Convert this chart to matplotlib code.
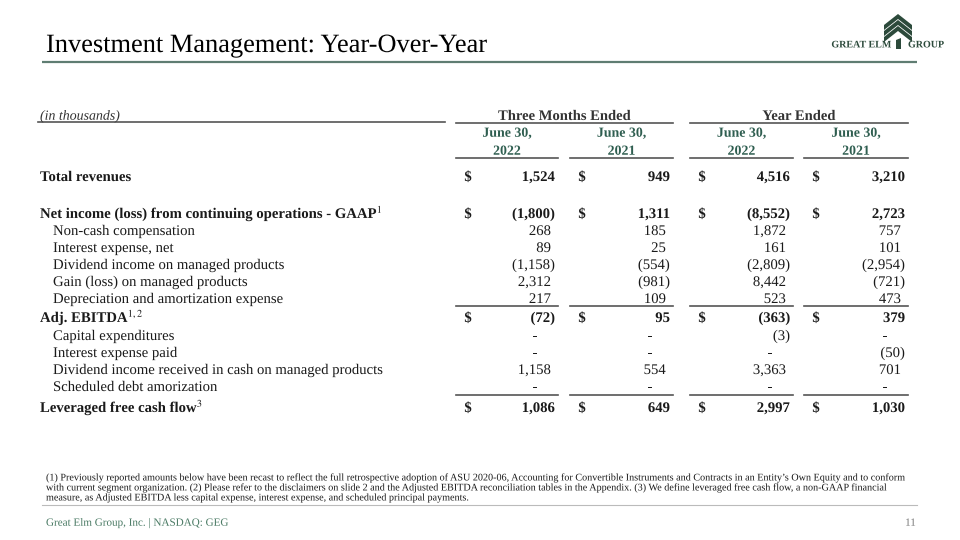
import matplotlib
matplotlib.use("Agg")
import matplotlib.pyplot as plt
import matplotlib.patheffects as pe
from matplotlib.patches import Polygon

plt.rcParams['font.family'] = 'Liberation Serif'
plt.rcParams['mathtext.fontset'] = 'stix'

# --- datos de la tabla (en miles) ---
row_labels = [
    "Total revenues",
    "Net income (loss) from continuing operations - GAAP$^1$",
    "Non-cash compensation",
    "Interest expense, net",
    "Dividend income on managed products",
    "Gain (loss) on managed products",
    "Depreciation and amortization expense",
    "Adj. EBITDA$^{1,2}$",
    "Capital expenditures",
    "Interest expense paid",
    "Dividend income received in cash on managed products",
    "Scheduled debt amorization",
    "Leveraged free cash flow$^3$",
]
row_bold = [True, True, False, False, False, False, False, True,
            False, False, False, False, True]

q3_2022 = [1524, -1800, 268, 89, -1158, 2312, 217, -72, None, None, 1158, None, 1086]
q3_2021 = [949, 1311, 185, 25, -554, -981, 109, 95, None, None, 554, None, 649]
fy_2022 = [4516, -8552, 1872, 161, -2809, 8442, 523, -363, -3, None, 3363, None, 2997]
fy_2021 = [3210, 2723, 757, 101, -2954, -721, 473, 379, None, -50, 701, None, 1030]

group_titles = ["Three Months Ended", "Year Ended"]
col_dates = ["June 30,", "June 30,", "June 30,", "June 30,"]
col_years = ["2022", "2021", "2022", "2021"]

footnotes = [
    "(1) Previously reported amounts below have been recast to reflect the full retrospective adoption of ASU 2020-06, "
    "Accounting for Convertible Instruments and Contracts in an Entity\u2019s Own Equity and to conform",
    "with current segment organization. (2) Please refer to the disclaimers on slide 2 and the Adjusted EBITDA "
    "reconciliation tables in the Appendix. (3) We define leveraged free cash flow, a non-GAAP financial",
    "measure, as Adjusted EBITDA less capital expense, interest expense, and scheduled principal payments.",
]

# --- layout (pixels) ---
row_y = [176, 213, 230, 247, 264, 281, 298, 317, 335, 352, 369, 386, 407]
col_left = [456, 570, 690, 804]
col_right = [558, 673, 793, 908]
dollar_rows = [0, 1, 7, 12]
lines_after = [306, 395]

DARK = '#1a1a1a'
GREEN = '#2f5e50'
LOGO = '#2c4a3b'
FS = 10.6
# dibujar el texto como trazos evita saltos de un pixel entre celdas
AS_PATH = [pe.Normal()]


def fmt(v):
    if v is None:
        return "-"
    if v < 0:
        return f"({abs(v):,})"
    return f"{v:,}"


def txt(x, yc, s, size=FS, **kw):
    # y es el centro visual de las mayusculas; se pasa a linea base
    base = yc + 0.34 * size * 100 / 72
    return ax.text(x, base, s, fontsize=size, va='baseline', path_effects=AS_PATH, **kw)


fig = plt.figure(figsize=(9.6, 5.4), dpi=100)
ax = fig.add_axes([0, 0, 1, 1])
ax.set_xlim(0, 960)
ax.set_ylim(540, 0)
ax.axis('off')

# titulo
ax.text(46, 52, "Investment Management: Year-Over-Year", fontsize=19.0,
        color='black', va='baseline', ha='left', path_effects=AS_PATH)
ax.plot([42, 917], [62, 62], color='#5f7d72', lw=1.6, solid_capstyle='butt')

# logo (arbol estilizado)
for top in [14, 20, 26]:
    cx, w, h, t = 898, 14, 11, 5
    pts = [(cx - w, top + h), (cx, top), (cx + w, top + h),
           (cx + w, top + h + t), (cx, top + t), (cx - w, top + h + t)]
    ax.add_patch(Polygon(pts, closed=True, color=LOGO, lw=0))
ax.add_patch(Polygon([(896, 40), (901, 38), (901, 49), (896, 49)], closed=True, color=LOGO, lw=0))
txt(891, 44, "GREAT ELM", size=7.2, color=LOGO, ha='right', fontweight='bold')
txt(908, 44, "GROUP", size=7.2, color=LOGO, ha='left', fontweight='bold')

# encabezados
txt(40, 115, "(in thousands)", size=10, style='italic', color='#333333')
ax.plot([38, 445], [122, 122], color='#555555', lw=1.2)
for i, title in enumerate(group_titles):
    x0, x1 = col_left[2 * i], col_right[2 * i + 1]
    txt((x0 + x1) / 2, 115, title, size=10.5, fontweight='bold',
        color='#333333', ha='center')
    ax.plot([x0, x1], [123, 123], color='#555555', lw=1.2)
for j in range(4):
    xc = (col_left[j] + col_right[j]) / 2
    txt(xc, 132, col_dates[j], size=10, fontweight='bold', color=GREEN, ha='center')
    txt(xc, 150, col_years[j], size=10, fontweight='bold', color=GREEN, ha='center')
    ax.plot([col_left[j], col_right[j]], [158, 158], color='#555555', lw=1.2)

# filas
columns = [q3_2022, q3_2021, fy_2022, fy_2021]
for r, label in enumerate(row_labels):
    y = row_y[r]
    bold = row_bold[r]
    weight = 'bold' if bold else 'normal'
    x_lab = 40 if bold else 53
    txt(x_lab, y, label, fontweight=weight, color=DARK, ha='left')
    for j, col in enumerate(columns):
        v = col[r]
        if r in dollar_rows:
            txt(col_left[j] + 12, y, "$", fontweight='bold', color=DARK, ha='center')
        if v is None:
            txt(col_right[j] - 23, y, "-", color=DARK, ha='center')
            continue
        x_r = col_right[j] - 3 if (bold or v < 0) else col_right[j] - 7
        txt(x_r, y, fmt(v), fontweight=weight, color=DARK, ha='right')

for ly in lines_after:
    for j in range(4):
        ax.plot([col_left[j], col_right[j]], [ly, ly], color='#555555', lw=1.2)

# notas al pie
for k, line in enumerate(footnotes):
    txt(46, 477 + k * 10, line, size=7.3, color=DARK, ha='left')
ax.plot([42, 917], [505, 505], color='#bbbbbb', lw=0.8)

txt(46, 522, "Great Elm Group, Inc. | NASDAQ: GEG", size=8, color='#4a7a64', ha='left')
txt(916, 522, "11", size=8, color='#777777', ha='right')

fig.savefig("out.png", dpi=100)
